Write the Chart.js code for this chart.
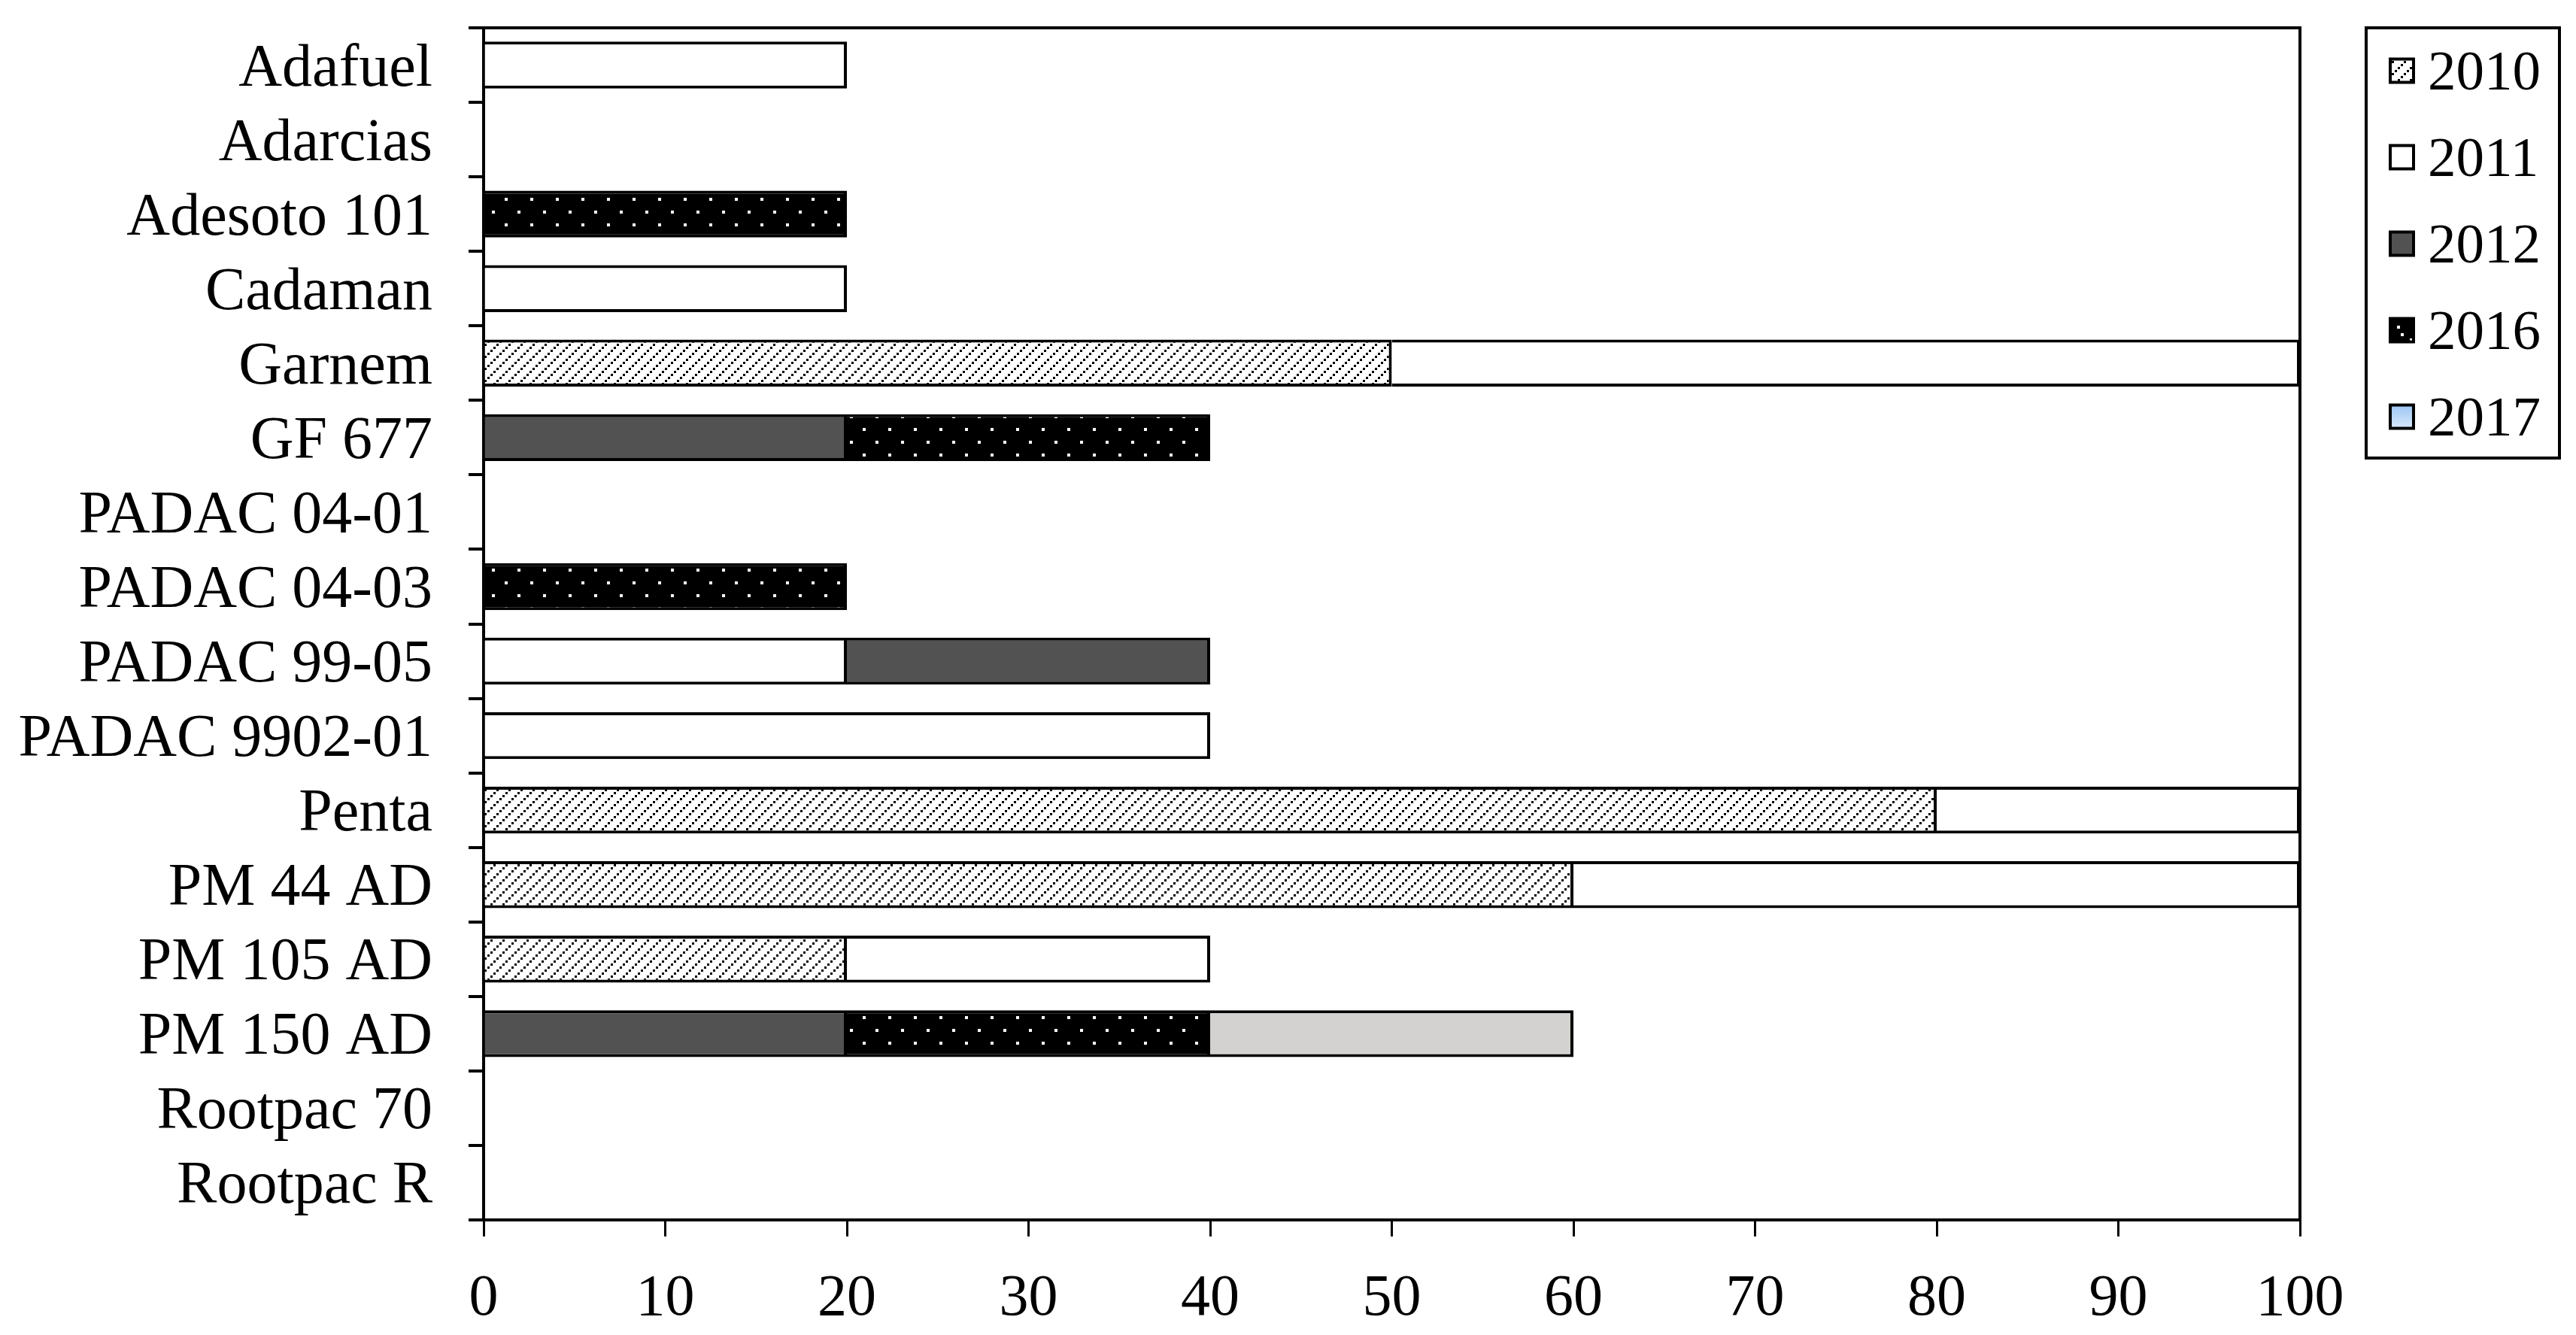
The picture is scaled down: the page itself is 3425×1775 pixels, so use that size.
<!DOCTYPE html>
<html>
<head>
<meta charset="utf-8">
<script src="https://cdn.jsdelivr.net/npm/chart.js@4.4.1/dist/chart.umd.min.js"></script>
<style>
  html, body { margin: 0; padding: 0; background: #fff; }
</style>
</head>
<body>
<canvas id="myChart" width="3425" height="1775"></canvas>
<script>
"use strict";

// data
const categories = ['Adafuel', 'Adarcias', 'Adesoto 101', 'Cadaman', 'Garnem', 'GF 677',
  'PADAC 04-01', 'PADAC 04-03', 'PADAC 99-05', 'PADAC 9902-01', 'Penta', 'PM 44 AD',
  'PM 105 AD', 'PM 150 AD', 'Rootpac 70', 'Rootpac R'];
const years = ['2010', '2011', '2012', '2016', '2017'];
const v2010 = [null, null, null, null, 50, null, null, null, null, null, 80, 60, 20, null, null, null];
const v2011 = [20, null, null, 20, 50, null, null, null, 20, 40, 20, 40, 20, null, null, null];
const v2012 = [null, null, null, null, null, 20, null, null, 20, null, null, null, null, 20, null, null];
const v2016 = [null, null, 20, null, null, 20, null, 20, null, null, null, null, null, 20, null, null];
const v2017 = [null, null, null, null, null, null, null, null, null, null, null, null, null, 20, null, null];
const xMin = 0, xMax = 100, xStep = 10;

const serif = "'Liberation Serif', 'Times New Roman', serif";

// fill patterns
function hatchPattern() {
  const c = document.createElement('canvas');
  c.width = 16; c.height = 16;
  const g = c.getContext('2d');
  g.fillStyle = '#fff'; g.fillRect(0, 0, 16, 16);
  g.fillStyle = '#000';
  for (let i = 0; i < 4; i++) g.fillRect(i * 4, 13 - i * 4, 3, 3);
  return g.createPattern(c, 'repeat');
}
function dotPattern() {
  const c = document.createElement('canvas');
  c.width = 34; c.height = 34;
  const g = c.getContext('2d');
  g.fillStyle = '#000'; g.fillRect(0, 0, 34, 34);
  g.fillStyle = '#fff';
  g.fillRect(8, 8, 4, 4);
  g.fillRect(25, 25, 4, 4);
  return g.createPattern(c, 'repeat');
}

const ctx = document.getElementById('myChart').getContext('2d');
const hatch = hatchPattern();
const dots = dotPattern();

const fills = [hatch, '#ffffff', '#525252', dots, '#d3d2d0'];
const seriesValues = [v2010, v2011, v2012, v2016, v2017];

const my_data = {
  labels: categories,
  datasets: years.map((y, i) => ({
    label: y,
    data: seriesValues[i],
    backgroundColor: fills[i],
    borderColor: '#000',
    borderWidth: { top: 4, bottom: 4, left: 0, right: 4 },
    borderSkipped: false
  }))
};

// frame on top/right + legend box like the original figure
const frameAndLegend = {
  id: 'frameAndLegend',
  afterDraw(chart) {
    const c = chart.ctx;
    const a = chart.chartArea;
    c.save();
    c.strokeStyle = '#000';
    c.lineWidth = 4;
    c.beginPath();
    c.moveTo(a.left, a.top);
    c.lineTo(a.right, a.top);
    c.lineTo(a.right, a.bottom);
    c.stroke();

    // legend
    c.lineWidth = 4;
    c.strokeRect(3146, 37, 257, 572);
    c.font = '75px ' + serif;
    c.textBaseline = 'alphabetic';
    c.textAlign = 'left';
    chart.data.datasets.forEach((ds, i) => {
      const cy = 94 + i * 115;
      const x = 3178, s = 31;
      if (i === 4) {
        const gr = c.createLinearGradient(0, cy - s / 2, 0, cy + s / 2);
        gr.addColorStop(0, '#9cc6f4');
        gr.addColorStop(1, '#d8e9fb');
        c.fillStyle = gr;
      } else {
        c.fillStyle = ds.backgroundColor;
      }
      c.fillRect(x, cy - s / 2, s, s);
      if (i === 3) {
        c.fillStyle = '#fff';
        c.fillRect(x + 14, cy + 4, 4, 4);
      }
      c.lineWidth = 4;
      c.strokeRect(x, cy - s / 2, s, s);
      c.fillStyle = '#000';
      c.fillText(ds.label, 3228, cy + 25);
    });
    c.restore();
  }
};

const config = {
  type: 'bar',
  data: my_data,
  options: {
    indexAxis: 'y',
    responsive: false,
    animation: false,
    barPercentage: 0.63,
    categoryPercentage: 1.0,
    layout: { padding: { top: 37, right: 367, left: 0, bottom: 0 } },
    scales: {
      x: {
        stacked: true,
        min: xMin,
        max: xMax,
        ticks: { stepSize: xStep, color: '#000', font: { family: serif, size: 78 }, padding: 37 },
        grid: { drawOnChartArea: false, color: '#000', lineWidth: 3, tickLength: 22 },
        border: { color: '#000', width: 4 },
        afterFit(scale) { scale.height = 153; }
      },
      y: {
        stacked: true,
        ticks: { color: '#000', font: { family: serif, size: 80 }, padding: 48, autoSkip: false, labelOffset: 6 },
        grid: { drawOnChartArea: false, color: '#000', lineWidth: 4, tickLength: 20, offset: true },
        border: { color: '#000', width: 4 },
        afterFit(scale) {
          scale.width = 643;
          scale.paddingTop = 0;
          scale.paddingBottom = 0;
        }
      }
    },
    plugins: {
      legend: { display: false },
      tooltip: { enabled: false }
    }
  },
  plugins: [frameAndLegend]
};

const my_chart = new Chart(ctx, config);
</script>
</body>
</html>
